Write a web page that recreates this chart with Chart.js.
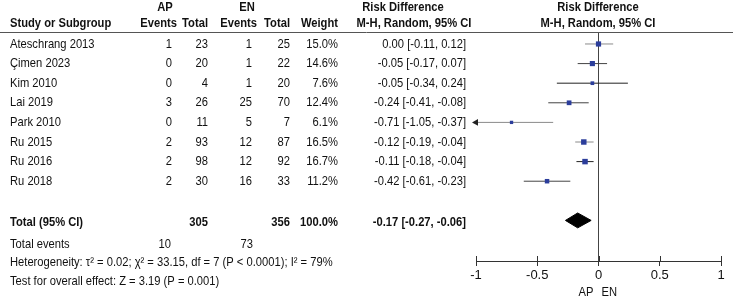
<!DOCTYPE html>
<html>
<head>
<meta charset="utf-8">
<script src="https://cdn.jsdelivr.net/npm/chart.js@4.4.0/dist/chart.umd.min.js"></script>
<style>
  html, body { margin: 0; padding: 0; background: #fff; }
  #wrap { width: 733px; height: 300px; }
</style>
</head>
<body>
<div id="wrap"><canvas id="forest" width="733" height="300"></canvas></div>
<script>
// study data
const studies  = ['Ateschrang 2013', 'Çimen 2023', 'Kim 2010', 'Lai 2019', 'Park 2010', 'Ru 2015', 'Ru 2016', 'Ru 2018'];
const apEvents = [1, 0, 0, 3, 0, 2, 2, 2];
const apTotal  = [23, 20, 4, 26, 11, 93, 98, 30];
const enEvents = [1, 1, 1, 25, 5, 12, 12, 16];
const enTotal  = [25, 22, 20, 70, 7, 87, 92, 33];
const weights  = [15.0, 14.6, 7.6, 12.4, 6.1, 16.5, 16.7, 11.2];
const riskDiff = [0.00, -0.05, -0.05, -0.24, -0.71, -0.12, -0.11, -0.42];
const ciLow    = [-0.11, -0.17, -0.34, -0.41, -1.05, -0.19, -0.18, -0.61];
const ciHigh   = [0.12, 0.07, 0.24, -0.08, -0.37, -0.04, -0.04, -0.23];

// pooled result
const pooledRd = -0.17;
const pooledCi = [-0.27, -0.06];
const totalWeight = 100.0;
const tau2 = 0.02, chi2 = 33.15, df = 7, pHet = '< 0.0001', i2 = 79;
const zValue = 3.19, pOverall = '0.001';

// axis
const xTicks = [-1, -0.5, 0, 0.5, 1];
const xLabels = ['-1', '-0.5', '0', '0.5', '1'];

// layout / styling
const X_MIN = -1, X_MAX = 1;
const TOTAL_ROW = studies.length + 1;
const FONT = '"Liberation Sans", Arial, sans-serif';
const SQUEEZE = 0.86;
const lineColors = ['#8a8a8a', '#444', '#222', '#444', '#8a8a8a', '#8a8a8a', '#222', '#444'];
const diamondHalf = 0.38;

const sum = arr => arr.reduce((a, b) => a + b, 0);
const f2 = v => v.toFixed(2);
const ciText = (m, lo, hi) => f2(m) + ' [' + f2(lo) + ', ' + f2(hi) + ']';

const tablePlugin = {
    id: 'forestTable',
    afterDraw(chart) {
        const ctx = chart.ctx;
        const ys = chart.scales.y;
        const xs = chart.scales.x;
        const area = chart.chartArea;

        function txt(s, px, py, align, bold) {
            ctx.save();
            ctx.font = (bold ? 'bold ' : '') + '13px ' + FONT;
            ctx.fillStyle = '#111';
            ctx.textAlign = align;
            ctx.textBaseline = 'middle';
            ctx.scale(SQUEEZE, 1);
            ctx.fillText(s, px / SQUEEZE, py);
            ctx.restore();
        }

        // header rule
        ctx.save();
        ctx.strokeStyle = '#555';
        ctx.lineWidth = 1;
        ctx.beginPath();
        ctx.moveTo(0, 32.5);
        ctx.lineTo(733, 32.5);
        ctx.stroke();

        // small tick marks above the axis line
        ctx.strokeStyle = '#333';
        xTicks.forEach(v => {
            const px = Math.round(xs.getPixelForValue(v)) + 0.5;
            ctx.beginPath();
            ctx.moveTo(px, area.bottom - 5);
            ctx.lineTo(px, area.bottom);
            ctx.stroke();
        });
        ctx.restore();

        // headers
        txt('AP', 165, 7, 'center', true);
        txt('EN', 247, 7, 'center', true);
        txt('Risk Difference', 403, 7, 'center', true);
        txt('Risk Difference', 598, 7, 'center', true);
        txt('Study or Subgroup', 10, 23, 'left', true);
        txt('Events', 177, 23, 'right', true);
        txt('Total', 208, 23, 'right', true);
        txt('Events', 257, 23, 'right', true);
        txt('Total', 290, 23, 'right', true);
        txt('Weight', 338, 23, 'right', true);
        txt('M-H, Random, 95% CI', 414, 23, 'center', true);
        txt('M-H, Random, 95% CI', 598, 23, 'center', true);

        // study rows
        studies.forEach((name, i) => {
            const py = ys.getPixelForValue(i);
            txt(name, 10, py, 'left');
            txt(String(apEvents[i]), 172, py, 'right');
            txt(String(apTotal[i]), 208, py, 'right');
            txt(String(enEvents[i]), 252, py, 'right');
            txt(String(enTotal[i]), 290, py, 'right');
            txt(weights[i].toFixed(1) + '%', 338, py, 'right');
            txt(ciText(riskDiff[i], ciLow[i], ciHigh[i]), 466, py, 'right');
        });

        // total rows
        const ty = ys.getPixelForValue(TOTAL_ROW) + 2;
        txt('Total (95% CI)', 10, ty, 'left', true);
        txt(String(sum(apTotal)), 208, ty, 'right', true);
        txt(String(sum(enTotal)), 290, ty, 'right', true);
        txt(totalWeight.toFixed(1) + '%', 338, ty, 'right', true);
        txt(ciText(pooledRd, pooledCi[0], pooledCi[1]), 466, ty, 'right', true);

        const ey = ys.getPixelForValue(TOTAL_ROW + 1.2);
        txt('Total events', 10, ey, 'left');
        txt(String(sum(apEvents)), 171, ey, 'right');
        txt(String(sum(enEvents)), 253, ey, 'right');
        txt('Heterogeneity: τ² = ' + f2(tau2) + '; χ² = ' + chi2.toFixed(2) + ', df = ' + df +
            ' (P ' + pHet + '); I² = ' + i2 + '%', 10, ys.getPixelForValue(TOTAL_ROW + 2.15), 'left');
        txt('Test for overall effect: Z = ' + zValue.toFixed(2) + ' (P = ' + pOverall + ')',
            10, ys.getPixelForValue(TOTAL_ROW + 3.1), 'left');

        // axis caption either side of zero
        const zx = xs.getPixelForValue(0);
        txt('AP', zx - 5, 292, 'right');
        txt('EN', zx + 3, 292, 'left');
    }
};

const datasets = [];

// confidence interval lines
studies.forEach((name, i) => {
    datasets.push({
        type: 'line',
        data: [{ x: Math.max(ciLow[i], X_MIN), y: i }, { x: Math.min(ciHigh[i], X_MAX), y: i }],
        borderColor: lineColors[i],
        borderWidth: 1,
        pointRadius: 0,
        fill: false,
        order: 3
    });
});

// arrows for intervals running off the axis
datasets.push({
    type: 'scatter',
    data: studies.map((n, i) => ciLow[i] < X_MIN ? { x: X_MIN, y: i } : null).filter(Boolean),
    pointStyle: 'triangle',
    rotation: 270,
    pointRadius: 4,
    backgroundColor: '#222',
    borderColor: '#222',
    borderWidth: 0,
    clip: false,
    order: 2
});

// study squares, sized by weight
datasets.push({
    type: 'scatter',
    data: studies.map((n, i) => ({ x: riskDiff[i], y: i })),
    pointStyle: 'rect',
    pointRadius: weights.map(w => 0.95 * Math.sqrt(w)),
    backgroundColor: '#2b3d9b',
    borderColor: '#2b3d9b',
    borderWidth: 0,
    order: 1
});

// pooled diamond (upper edge filled down to lower edge)
datasets.push({
    type: 'line',
    data: [{ x: pooledCi[0], y: TOTAL_ROW }, { x: pooledRd, y: TOTAL_ROW - diamondHalf }, { x: pooledCi[1], y: TOTAL_ROW }],
    borderColor: '#000',
    backgroundColor: '#000',
    borderWidth: 1,
    pointRadius: 0,
    tension: 0,
    fill: '+1',
    order: 1
});
datasets.push({
    type: 'line',
    data: [{ x: pooledCi[0], y: TOTAL_ROW }, { x: pooledRd, y: TOTAL_ROW + diamondHalf }, { x: pooledCi[1], y: TOTAL_ROW }],
    borderColor: '#000',
    borderWidth: 1,
    pointRadius: 0,
    tension: 0,
    fill: false,
    order: 1
});

new Chart(document.getElementById('forest').getContext('2d'), {
    type: 'scatter',
    data: { datasets: datasets },
    options: {
        responsive: false,
        animation: false,
        layout: { padding: { left: 476, right: 12, top: 33, bottom: 0 } },
        plugins: {
            legend: { display: false },
            tooltip: { enabled: false }
        },
        scales: {
            x: {
                type: 'linear',
                min: X_MIN,
                max: X_MAX,
                afterBuildTicks: scale => { scale.ticks = xTicks.map(v => ({ value: v })); },
                afterFit: scale => { scale.height = 39; },
                grid: {
                    color: c => (c.tick && c.tick.value === 0) ? '#444' : 'rgba(0,0,0,0)',
                    tickColor: '#333',
                    tickLength: 5,
                    lineWidth: 1
                },
                border: { display: true, color: '#333' },
                ticks: {
                    color: '#111',
                    font: { size: 13, family: FONT },
                    padding: 2,
                    maxRotation: 0,
                    callback: (v, idx) => xLabels[idx]
                },
                title: { display: false }
            },
            y: {
                type: 'linear',
                display: false,
                reverse: true,
                min: -0.56,
                max: 11.07
            }
        }
    },
    plugins: [tablePlugin]
});
</script>
</body>
</html>
